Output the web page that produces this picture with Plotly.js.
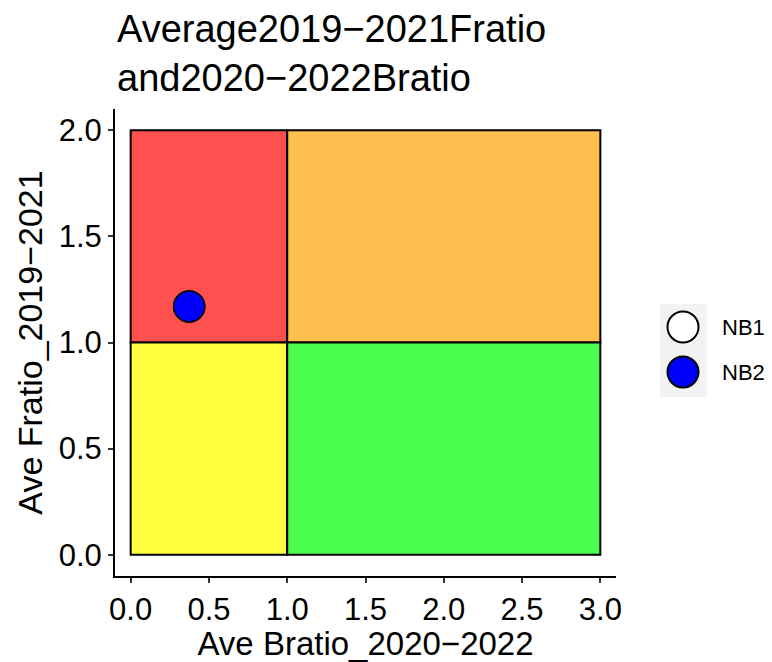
<!DOCTYPE html>
<html>
<head>
<meta charset="utf-8">
<script src="https://cdn.plot.ly/plotly-3.0.1.min.js"></script>
<style>html,body{margin:0;padding:0;background:#fff;}#chart{width:772px;height:662px;}</style>
</head>
<body>
<div id="chart"></div>
<script>
// Data
var seriesNames = ["NB1", "NB2"];
var seriesFill = ["#FFFFFF", "#0000FF"];
var bratioValues = [0.374, 0.374];
var fratioValues = [1.17, 1.17];

// Quadrant regions (x0, x1, y0, y1, colour)
var quadX0 = [0, 1, 0, 1];
var quadX1 = [1, 3, 1, 3];
var quadY0 = [1, 1, 0, 0];
var quadY1 = [2, 2, 1, 1];
var quadColors = ["#FF5050", "#FFBF50", "#FFFF40", "#4DFF4D"];

var xTicks = [0, 0.5, 1, 1.5, 2, 2.5, 3];
var xTickText = ["0.0", "0.5", "1.0", "1.5", "2.0", "2.5", "3.0"];
var yTicks = [0, 0.5, 1, 1.5, 2];
var yTickText = ["0.0", "0.5", "1.0", "1.5", "2.0"];

var W = 772, H = 662;
var M = {l: 115, r: 156, t: 109, b: 86};
var pw = W - M.l - M.r, ph = H - M.t - M.b;
function px(x) { return (x - M.l) / pw; }
function py(y) { return (H - M.b - y) / ph; }

var shapes = [];
for (var i = 0; i < quadX0.length; i++) {
  shapes.push({type: "rect", xref: "x", yref: "y", x0: quadX0[i], x1: quadX1[i], y0: quadY0[i], y1: quadY1[i],
    fillcolor: quadColors[i], line: {color: "#000000", width: 2}, layer: "below"});
}

// custom legend (ggplot-style)
var legendCenterX = 683, legendY = [327, 372], legendR = 15.5;
shapes.push({type: "rect", xref: "paper", yref: "paper", x0: px(660), x1: px(707), y0: py(304), y1: py(397),
  fillcolor: "#F2F2F2", line: {width: 0}});
var annotations = [];
for (var j = 0; j < seriesNames.length; j++) {
  shapes.push({type: "circle", xref: "paper", yref: "paper",
    x0: px(legendCenterX - legendR), x1: px(legendCenterX + legendR),
    y0: py(legendY[j] + legendR), y1: py(legendY[j] - legendR),
    fillcolor: seriesFill[j], line: {color: "#000000", width: 2}});
  annotations.push({xref: "paper", yref: "paper", x: px(720), y: py(legendY[j]), xanchor: "left", yanchor: "middle",
    text: seriesNames[j], showarrow: false, font: {family: "Liberation Sans, Arial, sans-serif", size: 22, color: "#000"}});
}

var traces = seriesNames.map(function (name, k) {
  return {
    type: "scatter", mode: "markers", name: name,
    x: [bratioValues[k]], y: [fratioValues[k]],
    marker: {size: 31, color: seriesFill[k], line: {color: "#000000", width: 1.5}},
    showlegend: false, cliponaxis: false
  };
});

var font = "Liberation Sans, Arial, sans-serif";
var layout = {
  width: W, height: H,
  margin: M,
  paper_bgcolor: "#FFFFFF", plot_bgcolor: "#FFFFFF",
  showlegend: false,
  title: {text: "Average2019\u22122021Fratio<br>and2020\u22122022Bratio", xref: "container", x: 117 / W, xanchor: "left",
    yref: "container", y: 1 - 42 / H, yanchor: "top", font: {family: font, size: 38, color: "#000"}},
  xaxis: {range: [-0.1, 3.1], tickvals: xTicks, ticktext: xTickText, showgrid: false, zeroline: false,
    showline: true, linecolor: "#000000", linewidth: 2, ticks: "outside", ticklen: 5, tickwidth: 2, tickcolor: "#333333",
    tickfont: {family: font, size: 31, color: "#000"},
    title: {text: "Ave Bratio_2020\u22122022", font: {family: font, size: 33, color: "#000"}, standoff: 9}},
  yaxis: {range: [-0.1, 2.1], tickvals: yTicks, ticktext: yTickText, showgrid: false, zeroline: false,
    showline: true, linecolor: "#000000", linewidth: 2, ticks: "outside", ticklen: 5, tickwidth: 2, tickcolor: "#333333",
    tickfont: {family: font, size: 31, color: "#000"},
    title: {text: "Ave Fratio_2019\u22122021", font: {family: font, size: 34, color: "#000"}, standoff: 6}},
  shapes: shapes,
  annotations: annotations
};

Plotly.newPlot("chart", traces, layout, {displayModeBar: false, staticPlot: true});
</script>
</body>
</html>
